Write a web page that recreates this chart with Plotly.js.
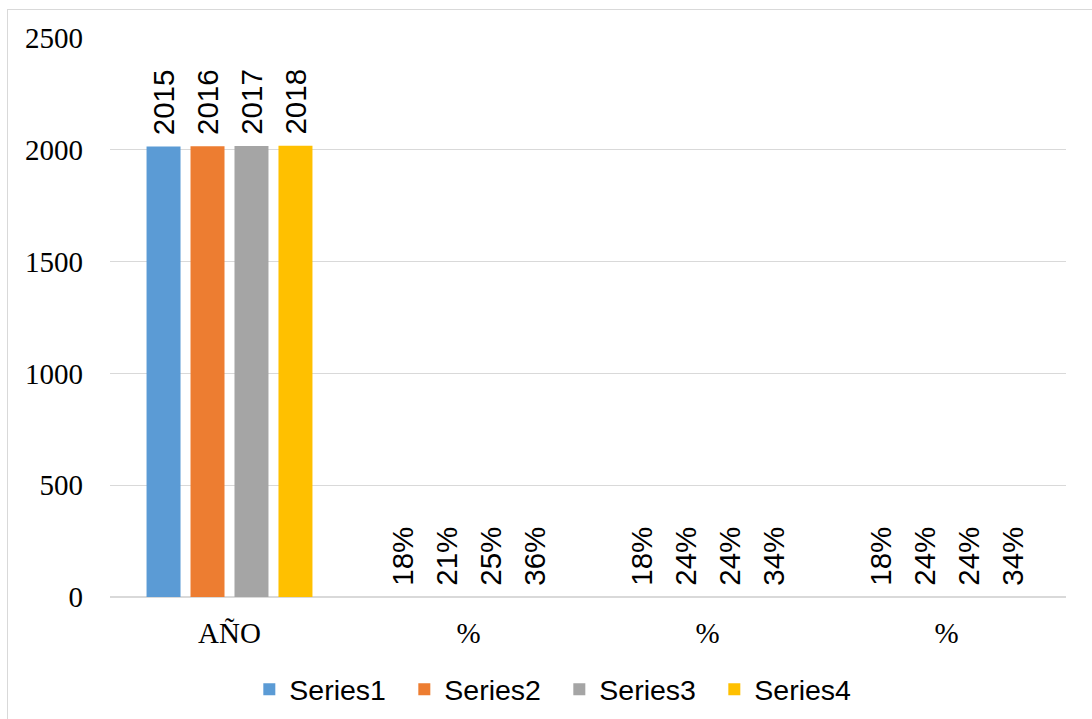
<!DOCTYPE html>
<html>
<head>
<meta charset="utf-8">
<script src="https://cdn.plot.ly/plotly-3.0.1.min.js"></script>
<style>
  html, body { margin: 0; padding: 0; background: #ffffff; }
  #wrap { position: relative; width: 1092px; height: 719px; overflow: hidden; }
  #chart { width: 1092px; height: 719px; }
  #frame { position: absolute; left: 7px; top: 9px; width: 1200px; height: 800px;
           border: 1.5px solid #d9d9d9; pointer-events: none; }
</style>
</head>
<body>
<div id="wrap">
  <div id="chart"></div>
  <div id="frame"></div>
</div>
<script>
// Data
const categoryLabels = ["AÑO", "%", "%", "%"];
const categoryPositions = [0, 1, 2, 3];
const seriesNames = ["Series1", "Series2", "Series3", "Series4"];
const series1 = [2015, 0.18, 0.18, 0.18];
const series2 = [2016, 0.21, 0.24, 0.24];
const series3 = [2017, 0.25, 0.24, 0.24];
const series4 = [2018, 0.36, 0.34, 0.34];
const seriesColors = ["#5B9BD5", "#ED7D31", "#A5A5A5", "#FFC000"];
const yTicks = [0, 500, 1000, 1500, 2000, 2500];

const allSeries = [series1, series2, series3, series4];

function labelFor(v) {
  return v >= 1 ? String(v) : Math.round(v * 100) + "%";
}

const traces = allSeries.map((vals, i) => ({
  type: "bar",
  name: seriesNames[i],
  x: categoryPositions,
  y: vals,
  text: vals.map(v => "\u00a0" + labelFor(v)),
  textposition: "outside",
  textangle: -90,
  constraintext: "none",
  cliponaxis: false,
  textfont: { family: "Liberation Sans, Arial, sans-serif", size: 29.5, color: "#000000" },
  marker: { color: seriesColors[i] },
  hoverinfo: "none"
}));

const layout = {
  width: 1092,
  height: 719,
  margin: { l: 110, r: 26, t: 38, b: 122, autoexpand: false },
  paper_bgcolor: "#ffffff",
  plot_bgcolor: "#ffffff",
  barmode: "group",
  bargap: 0.264,
  bargroupgap: 0.227,
  showlegend: true,
  legend: {
    orientation: "h",
    x: 0.47, xanchor: "center",
    y: -0.166, yanchor: "middle",
    font: { family: "Liberation Sans, Arial, sans-serif", size: 28.5, color: "#000000" },
    entrywidth: 110,
    entrywidthmode: "pixels"
  },
  xaxis: {
    tickmode: "array",
    tickvals: categoryPositions,
    ticktext: categoryLabels,
    range: [-0.5, 3.5],
    showgrid: false,
    zeroline: false,
    showline: false,
    ticks: "",
    automargin: false,
    tickfont: { family: "Liberation Serif, Times New Roman, serif", size: 29, color: "#000000" },
    ticklabelstandoff: 16
  },
  yaxis: {
    range: [0, 2500],
    tickmode: "array",
    tickvals: yTicks,
    ticktext: yTicks.map(String),
    showgrid: true,
    gridcolor: "#d9d9d9",
    gridwidth: 1,
    zeroline: true,
    zerolinecolor: "#d9d9d9",
    zerolinewidth: 2,
    showline: false,
    ticks: "",
    automargin: false,
    tickfont: { family: "Liberation Serif, Times New Roman, serif", size: 29, color: "#000000" },
    ticklabelstandoff: 26
  }
};

Plotly.newPlot("chart", traces, layout, { displayModeBar: false, staticPlot: true });
</script>
</body>
</html>
